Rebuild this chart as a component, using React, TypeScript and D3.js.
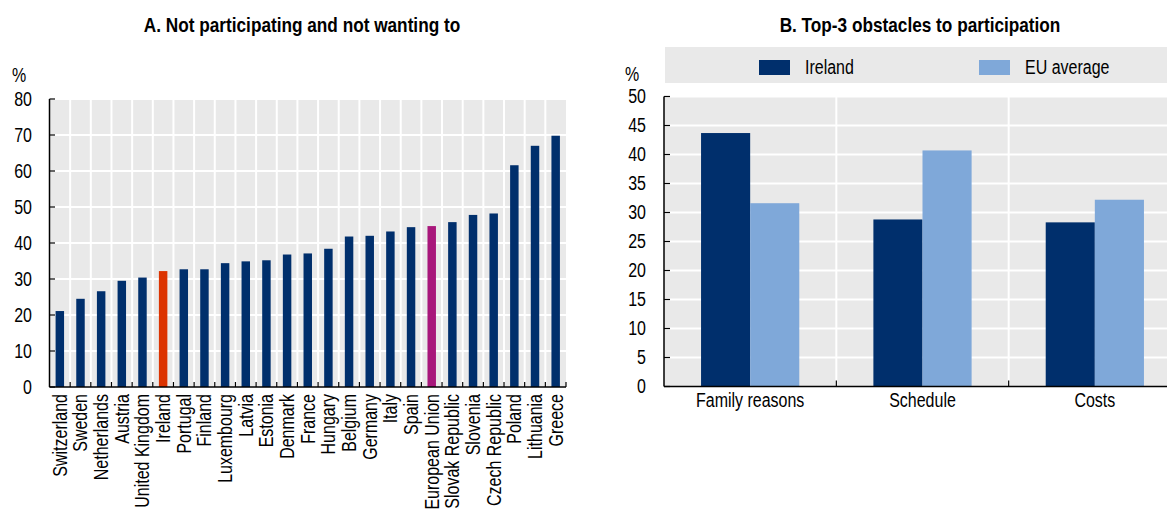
import * as React from 'react';
import * as d3 from 'd3';

// Panel A
const countries = [
  'Switzerland', 'Sweden', 'Netherlands', 'Austria', 'United Kingdom', 'Ireland', 'Portugal',
  'Finland', 'Luxembourg', 'Latvia', 'Estonia', 'Denmark', 'France', 'Hungary', 'Belgium',
  'Germany', 'Italy', 'Spain', 'European Union', 'Slovak Republic', 'Slovenia',
  'Czech Republic', 'Poland', 'Lithuania', 'Greece',
];
const notWanting = [
  21.1, 24.5, 26.6, 29.5, 30.4, 32.2, 32.7, 32.7, 34.4, 34.9, 35.2, 36.8, 37.1, 38.4, 41.8,
  42.0, 43.2, 44.4, 44.7, 45.8, 47.8, 48.2, 61.6, 67.0, 69.8,
];
const ticksA = [0, 10, 20, 30, 40, 50, 60, 70, 80];

// Panel B
const obstacles = ['Family reasons', 'Schedule', 'Costs'];
const seriesNames = ['Ireland', 'EU average'];
const irelandVals = [43.7, 28.8, 28.3];
const euVals = [31.6, 40.7, 32.2];
const ticksB = [0, 5, 10, 15, 20, 25, 30, 35, 40, 45, 50];

const NAVY = '#002F6C';
const LIGHT = '#7FA8D9';
const RED = '#DC3300';
const MAGENTA = '#A8177B';
const BG = '#E9E9E9';
const FONT = "'Liberation Sans', Arial, sans-serif";
const SQUEEZE = 0.82; // no narrow font installed, so squash horizontally

// text with a narrow look: x,y is the anchor point, rot the rotation in degrees
function T({ x, y, rot = 0, anchor = 'start', size = 19.5, bold = false, dy = '0', children }: any) {
  return (
    <text
      transform={`translate(${x},${y}) rotate(${rot}) scale(${SQUEEZE},1)`}
      textAnchor={anchor}
      dy={dy}
      fontSize={size}
      fontWeight={bold ? 'bold' : 'normal'}
      fill="#000"
    >
      {children}
    </text>
  );
}

export default function App() {
  // panel A scales
  const xA = d3.scaleBand<string>().domain(countries).range([49.5, 566]).paddingInner(0.59).paddingOuter(0.295);
  const yA = d3.scaleLinear().domain([0, 80]).range([387, 99]);
  const stepA = xA.step();

  // panel B scales
  const xB = d3.scaleBand<string>().domain(obstacles).range([664, 1181]).paddingInner(0.43).paddingOuter(0.215);
  const x1 = d3.scaleBand<string>().domain(seriesNames).range([0, xB.bandwidth()]);
  const yB = d3.scaleLinear().domain([0, 50]).range([386.5, 96.5]);
  const stepB = xB.step();

  const barColor = (c: string) => (c === 'Ireland' ? RED : c === 'European Union' ? MAGENTA : NAVY);

  return (
    <div style={{ position: 'fixed', left: 0, top: 0 }}>
      <svg width={1167} height={509} style={{ display: 'block', fontFamily: FONT }}>
        <rect width={1167} height={509} fill="#fff" />

        {/* ---------- Panel A ---------- */}
        <T x={302} y={32} anchor="middle" bold size={21}>A. Not participating and not wanting to</T>
        <T x={19} y={82} anchor="middle">%</T>
        <rect x={49.5} y={yA(80)} width={566 - 49.5} height={yA(0) - yA(80)} fill={BG} />
        {ticksA.slice(1).map((t) => (
          <line key={t} x1={49.5} x2={566} y1={yA(t)} y2={yA(t)} stroke="#fff" strokeWidth={2} />
        ))}
        {countries.slice(1).map((c, i) => (
          <line key={c} x1={49.5 + (i + 1) * stepA} x2={49.5 + (i + 1) * stepA} y1={yA(80)} y2={yA(0)} stroke="#fff" strokeWidth={2} />
        ))}
        {countries.map((c, i) => (
          <rect key={c} x={xA(c)} y={yA(notWanting[i])} width={xA.bandwidth()} height={yA(0) - yA(notWanting[i])} fill={barColor(c)} />
        ))}
        {/* axes A */}
        <line x1={49.5} x2={49.5} y1={yA(80)} y2={yA(0)} stroke="#000" strokeWidth={1.5} />
        <line x1={49.5} x2={566} y1={yA(0)} y2={yA(0)} stroke="#000" strokeWidth={1.5} />
        {ticksA.map((t) => (
          <g key={t}>
            <line x1={49.5} x2={55} y1={yA(t)} y2={yA(t)} stroke="#000" strokeWidth={1.2} />
            <T x={32} y={yA(t)} dy="0.35em" anchor="end">{t}</T>
          </g>
        ))}
        {countries.slice(1).map((c, i) => (
          <line key={c} x1={49.5 + (i + 1) * stepA} x2={49.5 + (i + 1) * stepA} y1={yA(0)} y2={yA(0) - 5} stroke="#000" strokeWidth={1.2} />
        ))}
        <line x1={566} x2={566} y1={yA(0)} y2={yA(0) - 5} stroke="#000" strokeWidth={1.2} />
        {countries.map((c) => {
          const cx = (xA(c) as number) + xA.bandwidth() / 2;
          return (
            <T key={c} x={cx} y={394} rot={-90} dy="0.35em" anchor="end">{c}</T>
          );
        })}

        {/* ---------- Panel B ---------- */}
        <T x={920} y={32} anchor="middle" bold size={21}>B. Top-3 obstacles to participation</T>
        <rect x={665} y={47} width={1167 - 665} height={36} fill={BG} />
        {seriesNames.map((s, i) => {
          const lx = i === 0 ? 759 : 979;
          return (
            <g key={s}>
              <rect x={lx} y={60} width={31} height={15} fill={i === 0 ? NAVY : LIGHT} />
              <T x={lx + 46} y={74}>{s}</T>
            </g>
          );
        })}
        <T x={632} y={81} anchor="middle">%</T>
        <rect x={664} y={yB(50)} width={1181 - 664} height={yB(0) - yB(50)} fill={BG} />
        {ticksB.slice(1).map((t) => (
          <line key={t} x1={664} x2={1181} y1={yB(t)} y2={yB(t)} stroke="#fff" strokeWidth={2} />
        ))}
        {obstacles.slice(1).map((c, i) => (
          <line key={c} x1={664 + (i + 1) * stepB} x2={664 + (i + 1) * stepB} y1={yB(50)} y2={yB(0)} stroke="#fff" strokeWidth={2} />
        ))}
        {obstacles.map((c, i) => (
          <g key={c} transform={`translate(${xB(c)},0)`}>
            {[irelandVals[i], euVals[i]].map((v, j) => (
              <rect key={j} x={x1(seriesNames[j])} y={yB(v)} width={x1.bandwidth()} height={yB(0) - yB(v)} fill={j === 0 ? NAVY : LIGHT} />
            ))}
          </g>
        ))}
        <line x1={664} x2={664} y1={yB(50)} y2={yB(0)} stroke="#000" strokeWidth={1.5} />
        <line x1={664} x2={1181} y1={yB(0)} y2={yB(0)} stroke="#000" strokeWidth={1.5} />
        {ticksB.map((t) => (
          <g key={t}>
            <line x1={664} x2={670} y1={yB(t)} y2={yB(t)} stroke="#000" strokeWidth={1.2} />
            <T x={646} y={yB(t)} dy="0.35em" anchor="end">{t}</T>
          </g>
        ))}
        {obstacles.slice(1).map((c, i) => (
          <line key={c} x1={664 + (i + 1) * stepB} x2={664 + (i + 1) * stepB} y1={yB(0)} y2={yB(0) - 6} stroke="#000" strokeWidth={1.2} />
        ))}
        {obstacles.map((c) => (
          <T key={c} x={(xB(c) as number) + xB.bandwidth() / 2} y={407} anchor="middle">{c}</T>
        ))}
      </svg>
    </div>
  );
}
